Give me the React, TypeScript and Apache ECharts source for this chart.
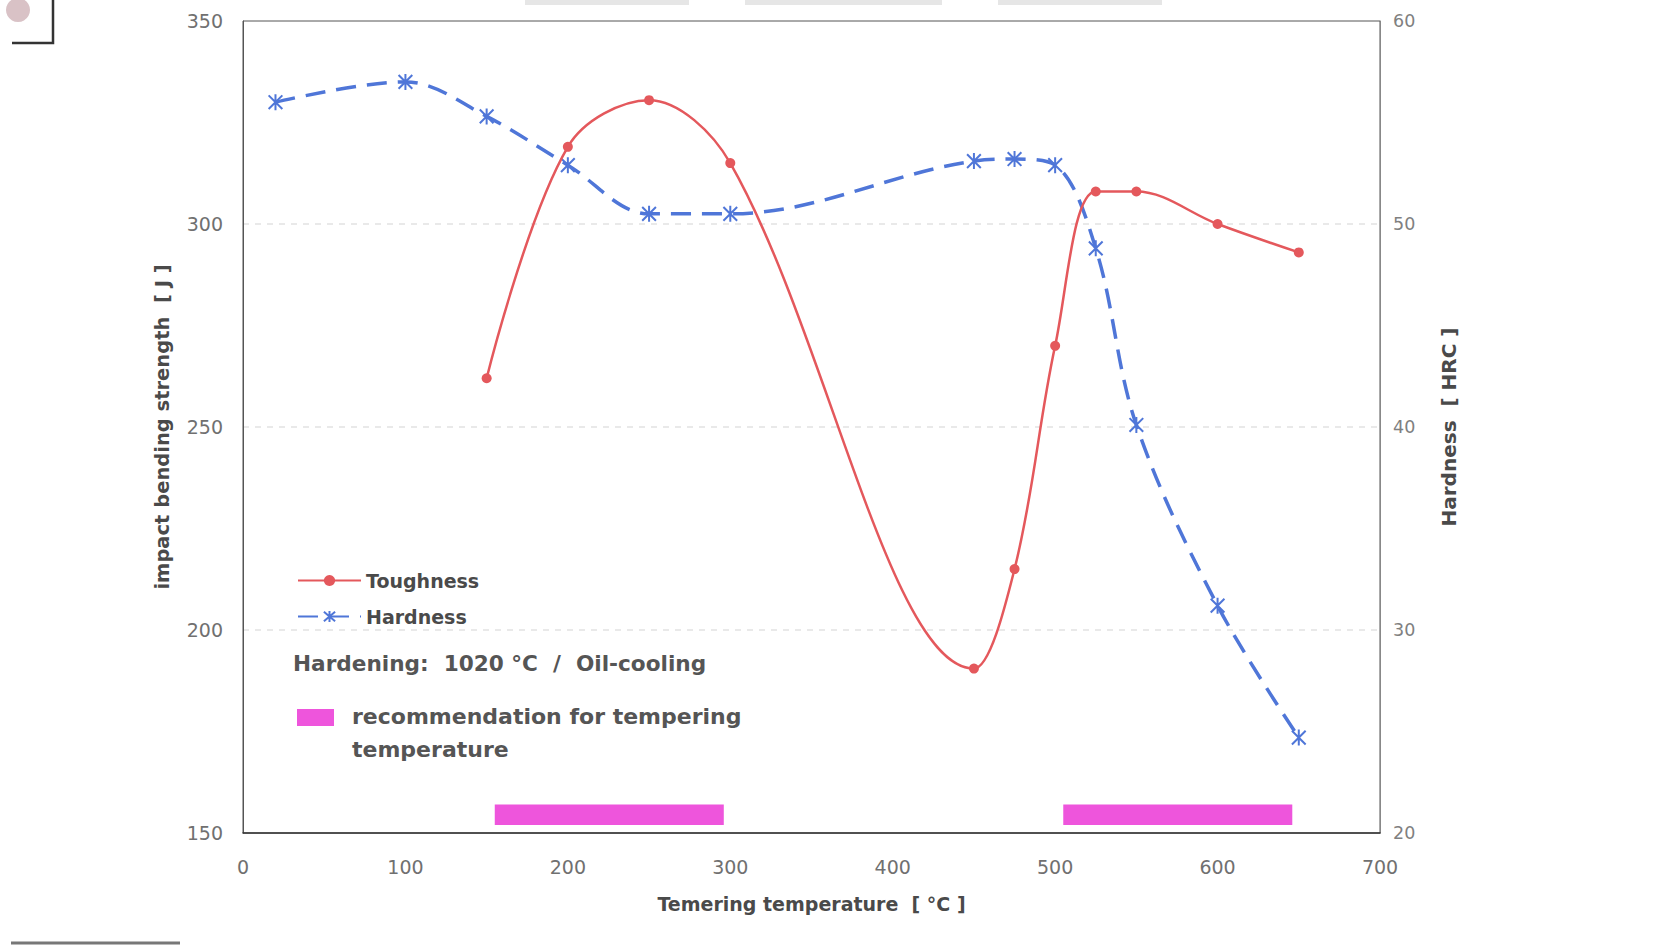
import React, { useEffect, useRef } from "react";
import * as echarts from "echarts";

const toughTemps = [150, 200, 250, 300, 450, 475, 500, 525, 550, 600, 650];
const toughness = [262, 319, 330.5, 315, 190.5, 215, 270, 308, 308, 300, 293];
const hardTemps = [20, 100, 150, 200, 250, 300, 450, 475, 500, 525, 550, 600, 650];
const hardness = [56, 57, 55.3, 52.9, 50.5, 50.5, 53.1, 53.2, 52.9, 48.8, 40.1, 31.2, 24.7];
const recRanges = [
  [155, 296],
  [505, 646],
];
const recBand = [152, 157];
const xTicks = { min: 0, max: 700, interval: 100 };
const leftTicks = { min: 150, max: 350, interval: 50 };
const rightTicks = { min: 20, max: 60, interval: 10 };

const RED = "#e4585c";
const BLUE = "#4f76d8";
const PINK = "#ee55dc";
const TEXT = "#4a4a4a";
const FONT = "'DejaVu Sans', 'Liberation Sans', Arial, sans-serif";

const asterisk = "path://M0,0 L12,12 M12,0 L0,12 M6,-1 L6,13";

export default function App() {
  const ref = useRef<HTMLDivElement>(null);
  useEffect(() => {
    document.body.style.margin = "0";
    const chart = echarts.init(ref.current!, undefined, { renderer: "svg" });
    chart.setOption({
      animation: false,
      backgroundColor: "#ffffff",
      textStyle: { fontFamily: FONT },
      grid: {
        left: 243,
        right: 276,
        top: 21,
        bottom: 115,
        show: true,
        borderColor: "#555",
        borderWidth: 1,
      },
      legend: {
        orient: "vertical",
        left: 297,
        top: 571,
        padding: 0,
        itemWidth: 63,
        itemHeight: 14,
        itemGap: 17,
        textStyle: { fontFamily: FONT, fontSize: 19, fontWeight: "bold", color: TEXT },
        data: ["Toughness", "Hardness"],
      },
      xAxis: {
        type: "value",
        ...xTicks,
        name: "Temering temperature  [ °C ]",
        nameLocation: "middle",
        nameGap: 61,
        nameTextStyle: { fontSize: 19, fontWeight: "bold", color: TEXT, fontFamily: FONT },
        axisLine: { show: true, lineStyle: { color: "#333", width: 1.5 } },
        axisTick: { show: false },
        axisLabel: { fontSize: 19, color: "#707070", margin: 24, fontFamily: FONT },
        splitLine: { show: false },
      },
      yAxis: [
        {
          type: "value",
          ...leftTicks,
          position: "left",
          name: "impact bending strength  [ J ]",
          nameLocation: "middle",
          nameRotate: 90,
          nameGap: 71,
          nameTextStyle: { fontSize: 19.5, fontWeight: "bold", color: TEXT, fontFamily: FONT },
          axisLine: { show: true, lineStyle: { color: "#555" } },
          axisTick: { show: false },
          axisLabel: { fontSize: 19, color: "#707070", margin: 20, fontFamily: FONT },
          splitLine: {
            show: true,
            showMinLine: false,
            showMaxLine: false,
            lineStyle: { color: "#e2e2e2", type: [6, 6], width: 1.5 },
          },
        },
        {
          type: "value",
          ...rightTicks,
          position: "right",
          name: "Hardness  [ HRC ]",
          nameLocation: "middle",
          nameRotate: 90,
          nameGap: 59,
          nameTextStyle: { fontSize: 20, fontWeight: "bold", color: TEXT, fontFamily: FONT },
          axisLine: { show: true, lineStyle: { color: "#888" } },
          axisTick: { show: false },
          axisLabel: { fontSize: 17.5, color: "#808080", margin: 13, fontFamily: FONT },
          splitLine: { show: false },
        },
      ],
      series: [
        {
          name: "Toughness",
          type: "line",
          yAxisIndex: 0,
          smooth: 0.35,
          data: toughTemps.map((t, i) => [t, toughness[i]]),
          symbol: "circle",
          symbolSize: 10,
          lineStyle: { color: RED, width: 2.5 },
          itemStyle: { color: RED },
          z: 3,
          markArea: {
            silent: true,
            itemStyle: { color: PINK, opacity: 1 },
            data: recRanges.map((r) => [
              { xAxis: r[0], yAxis: recBand[0] },
              { xAxis: r[1], yAxis: recBand[1] },
            ]),
          },
        },
        {
          name: "Hardness",
          type: "line",
          yAxisIndex: 1,
          smooth: 0.35,
          data: hardTemps.map((t, i) => [t, hardness[i]]),
          symbol: asterisk,
          symbolSize: 16,
          symbolKeepAspect: true,
          lineStyle: { color: BLUE, width: 3.5, type: [20, 11] },
          itemStyle: { color: BLUE, borderColor: BLUE, borderWidth: 2 },
          z: 2,
        },
      ],
      graphic: [
        {
          type: "text",
          left: 293,
          top: 652,
          style: {
            text: "Hardening:  1020 °C  /  Oil-cooling",
            font: `bold 21.6px ${FONT}`,
            fill: "#555",
          },
        },
        {
          type: "rect",
          shape: { x: 297, y: 709, width: 37, height: 17 },
          style: { fill: PINK },
        },
        {
          type: "text",
          left: 352,
          top: 700,
          style: {
            text: "recommendation for tempering\ntemperature",
            font: `bold 22px ${FONT}`,
            lineHeight: 33,
            fill: "#555",
          },
        },
        {
          type: "rect",
          shape: { x: 525, y: 0, width: 164, height: 5 },
          style: { fill: "#e6e6e6" },
          silent: true,
        },
        {
          type: "rect",
          shape: { x: 745, y: 0, width: 197, height: 5 },
          style: { fill: "#e6e6e6" },
          silent: true,
        },
        {
          type: "rect",
          shape: { x: 998, y: 0, width: 164, height: 5 },
          style: { fill: "#e6e6e6" },
          silent: true,
        },
        {
          type: "circle",
          shape: { cx: 18, cy: 10, r: 12 },
          style: { fill: "#d9c2c6" },
          silent: true,
        },
        {
          type: "polyline",
          shape: { points: [[12, 43], [53, 43], [53, 0]] },
          style: { stroke: "#333", lineWidth: 2.5, fill: "none" },
          silent: true,
        },
        {
          type: "line",
          shape: { x1: 11, y1: 943, x2: 180, y2: 943 },
          style: { stroke: "#777", lineWidth: 3 },
          silent: true,
        },
      ],
    });
    return () => chart.dispose();
  }, []);
  return <div ref={ref} style={{ width: 1656, height: 948 }} />;
}
